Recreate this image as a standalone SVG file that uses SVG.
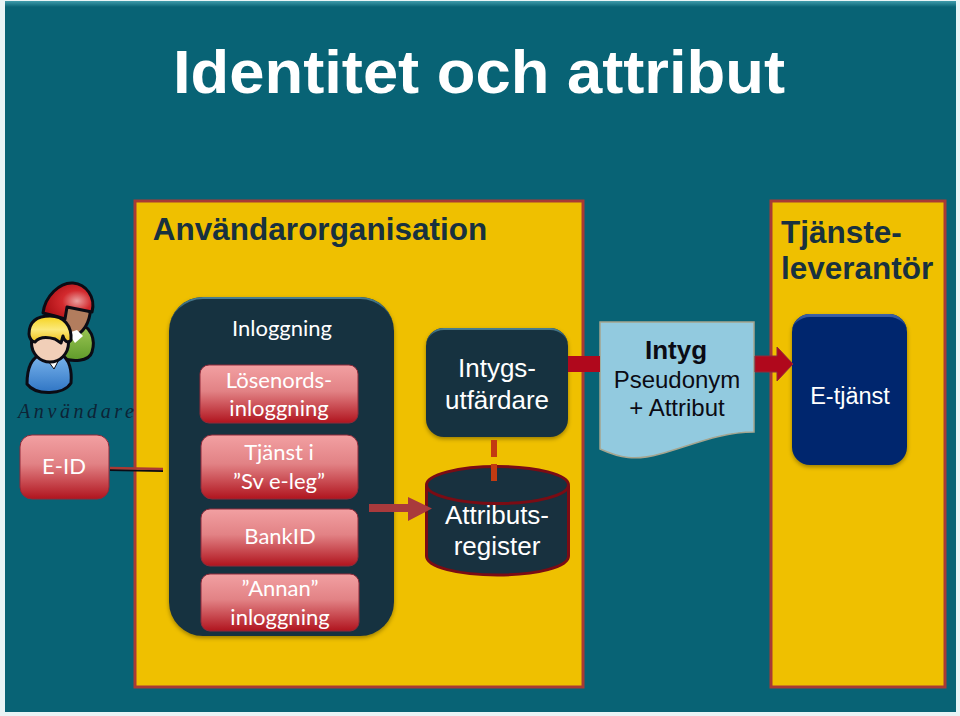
<svg xmlns="http://www.w3.org/2000/svg" width="960" height="716" viewBox="0 0 960 716">
<style>
.cal{font-family:Lato,"Open Sans",sans-serif;font-size:22px;fill:#fff;text-anchor:middle}
.ar{font-family:"Liberation Sans",Arial,sans-serif;text-anchor:middle}
.st{text-anchor:start}
.panel{fill:#EFC000;stroke:#A93A34;stroke-width:3}
.red{fill:url(#redG);stroke:#8f2a3a;stroke-width:1}
.dark{fill:#18313F;filter:url(#sh)}
.ol{stroke:#0b0b14;stroke-width:3;stroke-linejoin:round}
</style>
<defs>
<linearGradient id="bgTop" x1="0" y1="0" x2="0" y2="1"><stop offset="0" stop-color="#3f9bab"/><stop offset="1" stop-color="#086375"/></linearGradient>
<linearGradient id="redG" x1="0" y1="0" x2="0" y2="1"><stop offset="0" stop-color="#F2A0A2"/><stop offset=".45" stop-color="#E28285"/><stop offset="1" stop-color="#B0141E"/></linearGradient>
<linearGradient id="darkTop" x1="0" y1="0" x2="0" y2="1"><stop offset="0" stop-color="#4a7f92"/><stop offset="1" stop-color="#18313F"/></linearGradient>
<linearGradient id="blueTop" x1="0" y1="0" x2="0" y2="1"><stop offset="0" stop-color="#3f63a8"/><stop offset="1" stop-color="#05286E"/></linearGradient>
<radialGradient id="hairR" cx=".68" cy=".5" r=".65"><stop offset="0" stop-color="#e9a0a0"/><stop offset=".45" stop-color="#d32a2e"/><stop offset="1" stop-color="#ad1116"/></radialGradient>
<linearGradient id="hairY" x1="0" y1="0" x2="0" y2="1"><stop offset="0" stop-color="#f5d21c"/><stop offset=".5" stop-color="#fbe97a"/><stop offset="1" stop-color="#eebd12"/></linearGradient>
<linearGradient id="bodyB" x1="0" y1="0" x2="0" y2="1"><stop offset="0" stop-color="#7db6ee"/><stop offset="1" stop-color="#2f75c4"/></linearGradient>
<linearGradient id="bodyG" x1="0" y1="0" x2="0" y2="1"><stop offset="0" stop-color="#a5cd5a"/><stop offset="1" stop-color="#5f9a2a"/></linearGradient>
<filter id="sh" x="-10%" y="-10%" width="120%" height="120%"><feDropShadow dx="0" dy="2" stdDeviation="2" flood-color="#000" flood-opacity=".35"/></filter>
</defs>

<rect x="0" y="0" width="960" height="716" fill="#E8F4F6"/>
<rect x="5" y="1" width="951" height="711" fill="#086375"/>
<rect x="5" y="1" width="951" height="6" fill="url(#bgTop)"/>

<text class="ar" x="479" y="93" font-size="61" fill="#fff" font-weight="bold" textLength="612" lengthAdjust="spacingAndGlyphs">Identitet och attribut</text>

<g id="user-org">
<rect class="panel" x="135" y="201" width="448" height="486"/>
<text class="ar" x="320" y="240" font-size="31.500" font-weight="bold" fill="#18313F">Användarorganisation</text>
</g>
<g id="provider">
<rect class="panel" x="771" y="201" width="174" height="486"/>
<text class="ar st" x="781" y="243" font-size="31.500" font-weight="bold" fill="#18313F">Tjänste-</text>
<text class="ar st" x="781" y="279" font-size="31.500" font-weight="bold" fill="#18313F">leverantör</text>
</g>

<g id="users">
<path class="ol" d="M72 322C94 324 95 342 92 352C89 362 72 362 62 358L60 330Z" fill="url(#bodyG)"/>
<path class="ol" d="M64 306H90V314C88 326 80 338 68 336L62 330Z" fill="#B27D5E"/>
<path d="M68 333L77 330L83 336L75 343Z" fill="#fff"/>
<path class="ol" d="M43 313C45 296 60 282 73 283C86 284 96 297 92 312L67 307L65 319L55 316L43 313Z" fill="url(#hairR)"/>
<path class="ol" d="M27 384C27 372 29 358 42 354H60C70 358 72 372 71 383C64 395 36 396 27 384Z" fill="url(#bodyB)"/>
<path d="M43 354H62L54 369Z" fill="#fff" stroke="#0b0b14"/>
<ellipse class="ol" cx="50" cy="343" rx="18.500" ry="19" fill="#F1CFB8"/>
<path class="ol" d="M29 334C29 320 38 316 50 316C64 316 72 326 71 340C68 344 64 341 63 336L61 343L55 339C48 337 40 336 35 342C32 342 29 338 29 334Z" fill="url(#hairY)"/>
<text x="18" y="418" font-family="'Liberation Serif',serif" font-style="italic" font-size="20" letter-spacing="3.600" fill="#0d2436">Användare</text>
</g>

<g id="e-id">
<rect class="red" x="20" y="435" width="89" height="64" rx="12"/>
<text class="cal" x="64" y="474">E-ID</text>
</g>

<g id="inloggning">
<rect class="dark" x="169" y="297" width="225" height="339" rx="34"/>
<path d="M169 331a34 34 0 0 1 34-34h157a34 34 0 0 1 34 34a34 32 0 0 0-34-32h-157a34 32 0 0 0-34 32Z" fill="url(#darkTop)"/>
<text class="cal" x="282" y="336">Inloggning</text>
</g>
<g id="losenord">
<rect class="red" x="200" y="365" width="158" height="58" rx="9"/>
<text class="cal" x="279" y="388">Lösenords-</text>
<text class="cal" x="279" y="416">inloggning</text>
</g>
<g id="sv-e-leg">
<rect class="red" x="201" y="435" width="157" height="64" rx="11"/>
<text class="cal" x="279" y="460">Tjänst i</text>
<text class="cal" x="279" y="489">”Sv e-leg”</text>
</g>
<g id="bankid">
<rect class="red" x="201" y="509" width="157" height="57" rx="9"/>
<text class="cal" x="280" y="544">BankID</text>
</g>
<g id="annan">
<rect class="red" x="201" y="574" width="158" height="57" rx="9"/>
<text class="cal" x="280" y="596">”Annan”</text>
<text class="cal" x="280" y="625">inloggning</text>
</g>

<g id="intygsutfardare">
<rect class="dark" x="426" y="328" width="142" height="109" rx="18"/>
<path d="M426 346a18 18 0 0 1 18-18h106a18 18 0 0 1 18 18a18 16 0 0 0-18-16h-106a18 16 0 0 0-18 16Z" fill="url(#darkTop)"/>
<text class="ar" x="497" y="377" font-size="26" fill="#fff">Intygs-</text>
<text class="ar" x="497" y="409" font-size="26" fill="#fff">utfärdare</text>
</g>

<g id="attributsregister">
<path d="M426.500 487V556C426.500 567 458 575 497.500 575S568.500 567 568.500 556V487Z" fill="#18313F" stroke="#7A0C14" stroke-width="3"/>
<ellipse cx="497.500" cy="485" rx="71" ry="18.500" fill="#18313F" stroke="#7A0C14" stroke-width="3"/>
<text class="ar" x="497" y="524" font-size="26" fill="#fff">Attributs-</text>
<text class="ar" x="497" y="555" font-size="26" fill="#fff">register</text>
</g>

<g id="intyg">
<path d="M600 322H754V432C720 432 690 446 660 454C635 461 620 458 600 449Z" fill="#92CADF" stroke="#A5A58F" stroke-width="1.500"/>
<text class="ar" x="676" y="359" font-size="26" font-weight="bold" fill="#0b0b14">Intyg</text>
<text class="ar" x="677" y="388" font-size="24" fill="#0b0b14">Pseudonym</text>
<text class="ar" x="677" y="416" font-size="24" fill="#0b0b14">+ Attribut</text>
</g>

<g id="e-tjanst">
<rect class="dark" style="fill:#05286E" x="792" y="314" width="115" height="151" rx="18"/>
<path d="M792 332a18 18 0 0 1 18-18h79a18 18 0 0 1 18 18a18 15 0 0 0-18-15h-79a18 15 0 0 0-18 15Z" fill="url(#blueTop)"/>
<text class="ar" x="850" y="404" font-size="23.500" fill="#fff">E-tjänst</text>
</g>

<g id="connectors">
<line x1="110" y1="470" x2="163" y2="471" stroke="#0b0b14" stroke-width="2"/>
<line x1="110" y1="468" x2="163" y2="469" stroke="#A93A34" stroke-width="2.500"/>
<line x1="494" y1="440" x2="494" y2="482" stroke="#C23B12" stroke-width="6" stroke-dasharray="17 7"/>
<rect x="568" y="356" width="32" height="16" fill="#B0081C"/>
<path d="M755 356H777V347L793 364L777 381V372H755Z" fill="#B0081C" stroke="#8f2a3a"/>
<path d="M369 504H408V497L432 508.500L408 521V512H369Z" fill="#A93A3C"/>
</g>
</svg>
